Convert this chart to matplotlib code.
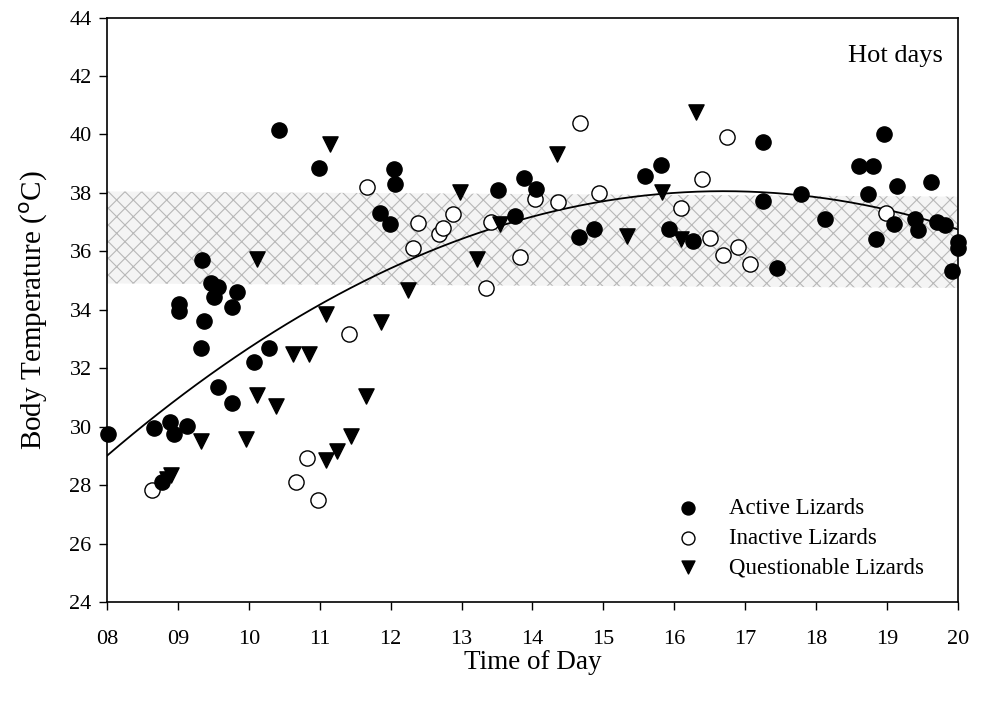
import numpy as np
import matplotlib.pyplot as plt

plt.rcParams['font.family'] = ['Liberation Serif', 'DejaVu Serif']
plt.rcParams['hatch.linewidth'] = 0.8

# active lizards (filled circles)
act_x = [8.01, 8.66, 8.89, 8.94, 9.13, 8.77, 9.02, 9.02, 9.33, 9.34, 9.37, 9.47, 9.51,
         9.57, 9.57, 9.76, 9.76, 9.83, 10.08, 10.28, 10.42, 10.99, 11.85, 11.99, 12.05,
         12.06, 13.52, 13.75, 13.88, 14.05, 14.66, 14.87, 15.59, 15.81, 15.92, 16.27,
         17.25, 17.25, 17.45, 17.78, 18.13, 18.61, 18.8, 18.73, 18.85, 18.96, 19.09,
         19.14, 19.39, 19.44, 19.62, 19.7, 19.82, 19.91, 20.0, 20.0]
act_y = [29.76, 29.95, 30.16, 29.74, 30.03, 28.12, 34.2, 33.95, 32.7, 35.7, 33.62, 34.92, 34.42,
         34.78, 31.34, 34.1, 30.82, 34.61, 32.21, 32.69, 40.15, 38.84, 37.32, 36.93, 38.8,
         38.3, 38.09, 37.2, 38.51, 38.12, 36.49, 36.78, 38.57, 38.94, 36.76, 36.36,
         39.73, 37.73, 35.44, 37.96, 37.12, 38.91, 38.91, 37.95, 36.41, 40.01, 36.93,
         38.23, 37.09, 36.72, 38.38, 36.99, 36.89, 35.32, 36.32, 36.1]

# inactive lizards (open circles)
ina_x = [8.63, 10.66, 10.82, 10.97, 11.42, 11.67, 12.31, 12.39, 12.68, 12.74, 12.88,
         13.34, 13.42, 13.83, 14.04, 14.36, 14.67, 14.94, 16.1, 16.39, 16.5, 16.69,
         16.74, 16.9, 17.07, 18.99]
ina_y = [27.84, 28.1, 28.91, 27.5, 33.18, 38.2, 36.12, 36.97, 36.59, 36.81, 37.29,
         34.73, 36.99, 35.81, 37.78, 37.7, 40.38, 37.98, 37.47, 38.46, 36.46, 35.89,
         39.92, 36.15, 35.58, 37.32]

# questionable lizards (triangles)
que_x = [8.85, 8.9, 9.33, 9.96, 10.11, 10.11, 10.38, 10.63, 10.85, 11.09, 11.09, 11.14,
         11.25, 11.44, 11.65, 11.87, 12.24, 12.98, 13.22, 13.54, 14.34, 15.33, 15.82,
         16.1, 16.31]
que_y = [28.22, 28.33, 29.5, 29.59, 35.72, 31.07, 30.7, 32.48, 32.48, 33.85, 28.87, 39.67,
         29.16, 29.67, 31.04, 33.58, 34.69, 38.04, 35.75, 36.95, 39.32, 36.53, 38.04,
         36.41, 40.77]

# points
curve_x = [8, 10, 12, 14, 16, 18, 20]
curve_y = [29.0, 32.7, 35.4, 37.2, 38.0, 37.85, 36.75]

# hatched band of preferred temperatures
band_x = [8, 20]
band_lo = [34.9, 34.75]
band_hi = [38.05, 37.87]

xticks = list(range(8, 21))
xlabels = ['%02d' % t for t in xticks]
yticks = list(range(24, 45, 2))

fig = plt.figure(figsize=(9.81, 7.02), dpi=100)
ax = fig.add_axes([0.109, 0.1425, 0.8676, 0.8325])

ax.fill_between(band_x, band_lo, band_hi, facecolor='#f4f4f4', edgecolor='#b8b8b8',
                hatch='xx', linewidth=0, zorder=1)

coef = np.polyfit(curve_x, curve_y, 2)
xs = np.linspace(8, 20, 200)
ax.plot(xs, np.polyval(coef, xs), color='black', lw=1.3, zorder=2)

ax.scatter(act_x, act_y, s=120, c='black', marker='o', label='Active Lizards',
           zorder=4, clip_on=False)
ax.scatter(ina_x, ina_y, s=120, facecolors='white', edgecolors='black', linewidths=1.0,
           marker='o', label='Inactive Lizards', zorder=3, clip_on=False)
ax.scatter(que_x, que_y, s=120, c='black', marker='v', label='Questionable Lizards',
           zorder=4, clip_on=False)

ax.set_xlim(8, 20)
ax.set_ylim(24, 44)
ax.set_xticks(xticks)
ax.set_xticklabels(xlabels)
ax.set_yticks(yticks)
ax.tick_params(direction='out', length=6, width=1, labelsize=16)
ax.tick_params(axis='x', pad=14)
ax.tick_params(axis='y', pad=5)
for s in ax.spines.values():
    s.set_linewidth(1.2)

ax.set_xlabel('Time of Day', fontsize=19.5, labelpad=1)
ax.set_ylabel('Body Temperature ($^{\\rm o}$C)', fontsize=21, labelpad=14)

ax.text(0.982, 0.935, 'Hot days', transform=ax.transAxes, ha='right', va='center',
        fontsize=19)

leg = ax.legend(loc='lower left', bbox_to_anchor=(0.631, 0.005), frameon=False,
                fontsize=16.5, handletextpad=0.8, labelspacing=0.37, scatterpoints=1,
                markerscale=0.85)

fig.savefig('out.png', dpi=100)
